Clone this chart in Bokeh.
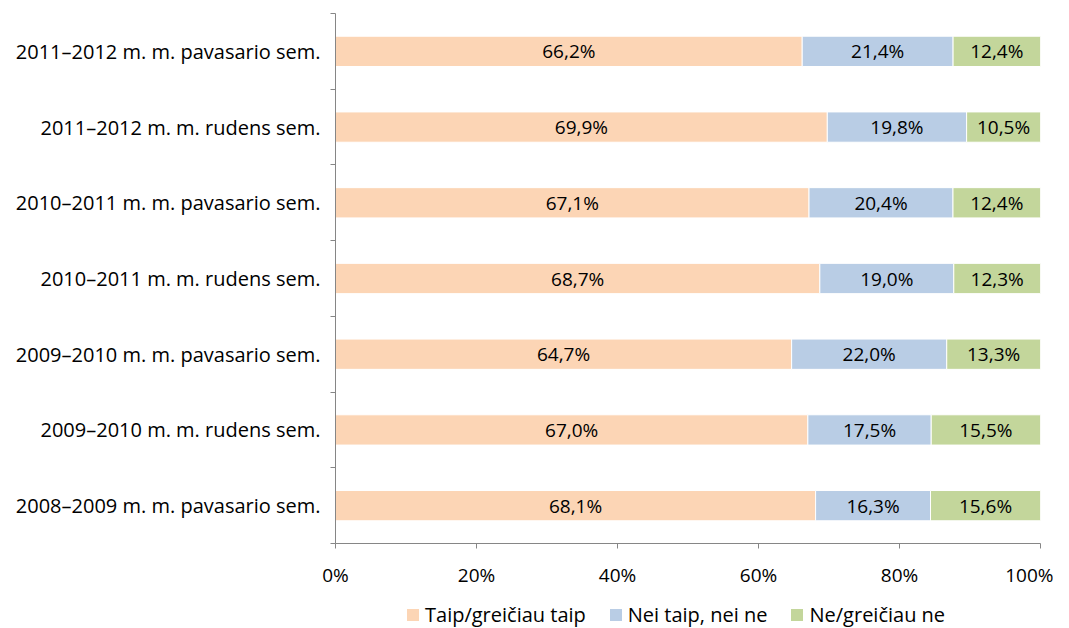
from bokeh.plotting import figure
from bokeh.models import (ColumnDataSource, FixedTicker, Range1d, Legend, LegendItem,
                          LabelSet)
from bokeh.layouts import column
from bokeh.embed import file_html
from bokeh.resources import INLINE
from bokeh.core.properties import value

categories = [
    "2008–2009 m. m. pavasario sem.",
    "2009–2010 m. m. rudens sem.",
    "2009–2010 m. m. pavasario sem.",
    "2010–2011 m. m. rudens sem.",
    "2010–2011 m. m. pavasario sem.",
    "2011–2012 m. m. rudens sem.",
    "2011–2012 m. m. pavasario sem.",
]
series_names = ["Taip/greičiau taip", "Nei taip, nei ne", "Ne/greičiau ne"]
taip = [68.1, 67.0, 64.7, 68.7, 67.1, 69.9, 66.2]
nei = [16.3, 17.5, 22.0, 19.0, 20.4, 19.8, 21.4]
ne = [15.6, 15.5, 13.3, 12.3, 12.4, 10.5, 12.4]
x_ticks = [0, 20, 40, 60, 80, 100]
x_tick_labels = ["0%", "20%", "40%", "60%", "80%", "100%"]

colors = ["#FCD5B5", "#B9CDE5", "#C3D69B"]
FONT = "Open Sans"
FS = "19px"
FS_CAT = "20px"
FS_LEG = "20px"

n = len(categories)
ys = [i + 0.5 for i in range(n)]

series = [taip, nei, ne]
totals = [sum(s[i] for s in series) for i in range(n)]

p = figure(width=1053, height=590, output_backend="svg", toolbar_location=None,
           x_range=Range1d(0, 100), y_range=Range1d(0, n),
           min_border_left=335, min_border_right=13, min_border_top=13, min_border_bottom=44)
p.xgrid.visible = False
p.ygrid.visible = False
p.outline_line_color = None

lefts = [0.0] * n
for s, c in zip(series, colors):
    norm = [s[i] / totals[i] * 100 for i in range(n)]
    rights = [lefts[i] + norm[i] for i in range(n)]
    src = ColumnDataSource(dict(
        y=ys, left=lefts, right=rights,
        mid=[(lefts[i] + rights[i]) / 2 for i in range(n)],
        lab=[("%.1f%%" % s[i]).replace(".", ",") for i in range(n)],
    ))
    p.hbar(y="y", left="left", right="right", height=0.4, source=src,
           fill_color=c, line_color="white", line_width=1)
    p.add_layout(LabelSet(x="mid", y="y", text="lab", source=src,
                          text_align="center", text_baseline="middle",
                          text_font=value(FONT), text_font_size=FS,
                          text_color="#000000"))
    lefts = rights

# axes
xa = p.xaxis[0]
xa.ticker = FixedTicker(ticks=x_ticks)
xa.major_label_overrides = {t: l for t, l in zip(x_ticks, x_tick_labels)}
xa.axis_line_color = "#868686"
xa.major_tick_line_color = "#868686"
xa.major_tick_in = 0
xa.major_tick_out = 5
xa.minor_tick_line_color = None
xa.major_label_text_font = FONT
xa.major_label_text_font_size = FS
xa.major_label_text_color = "#000000"
xa.major_label_standoff = 13

ya = p.yaxis[0]
ya.ticker = FixedTicker(ticks=ys, minor_ticks=list(range(n + 1)))
ya.major_label_overrides = {y: c for y, c in zip(ys, categories)}
ya.axis_line_color = "#868686"
ya.major_tick_line_color = None
ya.major_tick_in = 0
ya.major_tick_out = 0
ya.minor_tick_line_color = "#868686"
ya.minor_tick_in = 0
ya.minor_tick_out = 5
ya.major_label_text_font = FONT
ya.major_label_text_font_size = FS_CAT
ya.major_label_text_color = "#000000"
ya.major_label_standoff = 10

# legend strip (its frame is aligned with the main frame by the column layout)
lg = figure(width=1053, height=38, output_backend="svg", toolbar_location=None,
            x_range=Range1d(0, 1), y_range=Range1d(0, 1),
            x_axis_location=None, y_axis_location=None,
            min_border_left=335, min_border_right=13, min_border_top=0, min_border_bottom=0)
lg.xgrid.visible = False
lg.ygrid.visible = False
lg.outline_line_color = None
items = []
for c, nm in zip(colors, series_names):
    r = lg.quad(left=[5], right=[6], top=[6], bottom=[5], fill_color=c, line_color=None)
    items.append(LegendItem(label=nm, renderers=[r]))
legend = Legend(items=items, orientation="horizontal", location=(70, 0),
                label_text_font=FONT, label_text_font_size=FS_LEG,
                label_text_color="#000000",
                glyph_width=15, glyph_height=15, label_height=20,
                label_standoff=5, spacing=22,
                padding=0, margin=0, border_line_color=None,
                background_fill_alpha=0)
lg.add_layout(legend, "center")

layout = column(p, lg, spacing=0)
open("out.html", "w").write(file_html(layout, INLINE))
